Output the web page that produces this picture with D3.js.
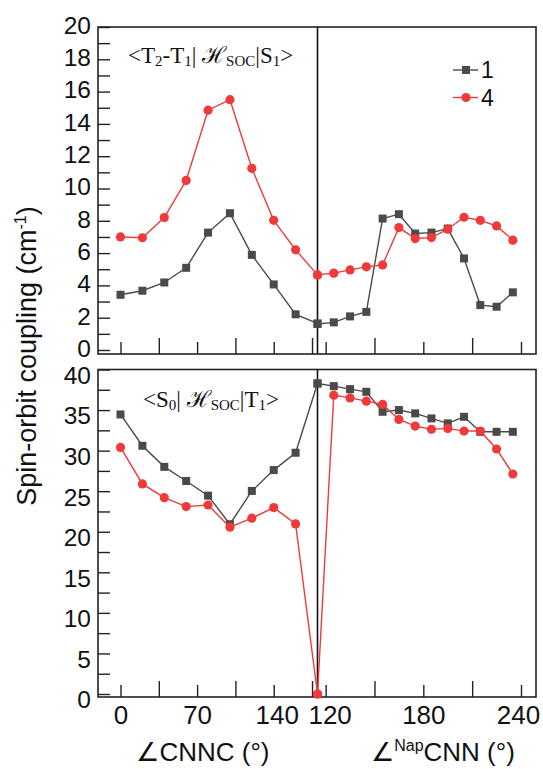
<!DOCTYPE html>
<html><head><meta charset="utf-8">
<script src="https://cdn.jsdelivr.net/npm/d3@7"></script>
<style>
html,body{margin:0;padding:0;background:#fff;}
svg{display:block;}
</style></head>
<body>
<svg id="chart" width="543" height="769"></svg>
<script>
// ---------- data ----------
const xLeft  = [0, 20, 40, 60, 80, 100, 120, 140, 160, 180];           // ∠CNNC
const xRight = [115, 125, 135, 145, 155, 165, 175, 185, 195, 205, 215, 225, 235]; // ∠NapCNN

// top panel <T2-T1|Hsoc|S1>
const top1Left  = [3.42, 3.67, 4.18, 5.09, 7.27, 8.47, 5.89, 4.06, 2.21, 1.65];
const top4Left  = [7.0, 6.95, 8.2, 10.5, 14.85, 15.5, 11.25, 8.03, 6.2, 4.65];
const top1Right = [1.61, 1.71, 2.08, 2.36, 8.14, 8.41, 7.21, 7.27, 7.52, 5.67, 2.78, 2.68, 3.57];
const top4Right = [4.65, 4.76, 4.96, 5.15, 5.27, 7.58, 6.9, 6.96, 7.48, 8.22, 8.03, 7.68, 6.8];

// bottom panel <S0|Hsoc|T1>
const bot1Left  = [34.46, 30.6, 28.0, 26.26, 24.45, 20.93, 25.03, 27.6, 29.74, 38.28];
const bot4Left  = [30.4, 25.9, 24.2, 23.1, 23.3, 20.56, 21.67, 22.98, 20.97, 0];
const bot1Right = [38.28, 37.95, 37.58, 37.25, 34.79, 35.0, 34.59, 33.97, 33.36, 34.17, 32.32, 32.32, 32.32];
const bot4Right = [0, 36.84, 36.5, 36.1, 35.7, 33.85, 33.03, 32.62, 32.74, 32.41, 32.41, 30.2, 27.12];

const seriesNames = ["1", "4"];
const leftMajorTicks = [0, 70, 140];
const leftMinorTicks = [35, 105, 175];
const rightMajorTicks = [120, 180, 240];
const rightMinorTicks = [150, 210];
const topYTicks = d3.range(0, 21, 1);
const topYLabels = [0, 2, 4, 6, 8, 10, 12, 14, 16, 18, 20];
const botYTicks = d3.range(0, 40.1, 2.5);
const botYLabels = [0, 5, 10, 15, 20, 25, 30, 35, 40];

// ---------- layout ----------
const C1 = "#4a4a4a", C4 = "#ee3a3a";
const frameL = 98, frameR = 536, divX = 317.5;
const panels = [
  {top: 27, bottom: 354, y0: 350, y1: 27, max: 20, yTicks: topYTicks, yLabels: topYLabels,
   s1L: top1Left, s4L: top4Left, s1R: top1Right, s4R: top4Right, labelDy: -2, showX: false},
  {top: 369.5, bottom: 697, y0: 694, y1: 369.5, max: 40, yTicks: botYTicks, yLabels: botYLabels,
   s1L: bot1Left, s4L: bot4Left, s1R: bot1Right, s4R: bot4Right, labelDy: 5.5, showX: true}
];

const xL = d3.scaleLinear().domain([0, 180]).range([120.5, divX]);
const xR = d3.scaleLinear().domain([115, 240]).range([divX, 521]);

const svg = d3.select("#chart");
const sansFont = "'Liberation Sans', Arial, Helvetica, sans-serif";

panels.forEach(p => {
  const y = d3.scaleLinear().domain([0, p.max]).range([p.y0, p.y1]);
  const g = svg.append("g");

  // y ticks (inward)
  const ya = g.append("g").attr("transform", `translate(${frameL},0)`)
    .call(d3.axisLeft(y).tickValues(p.yTicks).tickSize(-12).tickPadding(7)
      .tickFormat(d => p.yLabels.includes(d) ? d3.format("d")(d) : ""));
  ya.select(".domain").remove();
  ya.selectAll("line").attr("stroke", "#222").attr("stroke-width", 1.4);
  ya.selectAll("text").attr("font-family", sansFont).attr("font-size", 24.5).attr("fill", "#111")
    .attr("dy", "0.34em").attr("transform", `translate(0,${p.labelDy})`);

  // x ticks (inward)
  const xaxes = [
    [xL, leftMajorTicks, 12, true], [xL, leftMinorTicks, 16, false],
    [xR, rightMajorTicks, 12, true], [xR, rightMinorTicks, 16, false]
  ];
  xaxes.forEach(([sc, vals, len, lab]) => {
    const xa = g.append("g").attr("transform", `translate(0,${p.bottom})`)
      .call(d3.axisBottom(sc).tickValues(vals).tickSize(-len).tickPadding(9)
        .tickFormat(d => (lab && p.showX) ? d : ""));
    xa.select(".domain").remove();
    xa.selectAll("line").attr("stroke", "#222").attr("stroke-width", 1.4);
    xa.selectAll("text").attr("font-family", sansFont).attr("font-size", 26).attr("fill", "#111")
      .attr("transform", d => d === 140 ? "translate(3,0)" : (d === 120 ? "translate(4,0)" : (d === 240 ? "translate(-3,0)" : null)));
  });

  // frame
  g.append("rect").attr("x", frameL).attr("y", p.top).attr("width", frameR - frameL)
    .attr("height", p.bottom - p.top).attr("fill", "none").attr("stroke", "#222").attr("stroke-width", 1.6);
  // divider
  g.append("line").attr("x1", divX).attr("x2", divX).attr("y1", p.top).attr("y2", p.bottom)
    .attr("stroke", "#111").attr("stroke-width", 1.6);

  // series
  const drawSeries = (xs, vals, sc, color, shape) => {
    const pts = xs.map((d, i) => [sc(d), y(vals[i])]);
    g.append("path").attr("d", d3.line()(pts)).attr("fill", "none")
      .attr("stroke", color).attr("stroke-width", 1.4);
    if (shape === "square") {
      g.selectAll(null).data(pts).enter().append("rect")
        .attr("x", d => d[0] - 4).attr("y", d => d[1] - 4).attr("width", 8).attr("height", 8)
        .attr("fill", color);
    } else {
      g.selectAll(null).data(pts).enter().append("circle")
        .attr("cx", d => d[0]).attr("cy", d => d[1]).attr("r", 4.6).attr("fill", color);
    }
  };
  drawSeries(xLeft, p.s1L, xL, C1, "square");
  drawSeries(xRight, p.s1R, xR, C1, "square");
  drawSeries(xLeft, p.s4L, xL, C4, "circle");
  drawSeries(xRight, p.s4R, xR, C4, "circle");
});

// panel titles (serif)
const serif = "'Liberation Serif', 'Times New Roman', 'DejaVu Serif', serif";
function title(x, yb, parts) {
  const t = svg.append("text").attr("x", x).attr("y", yb).attr("font-family", serif)
    .attr("font-size", 23).attr("fill", "#111");
  parts.forEach(([s, sub], i) => {
    const prevSub = i > 0 && parts[i - 1][1];
    const ts = t.append("tspan").text(s)
      .attr("dy", sub && !prevSub ? 3 : (!sub && prevSub ? -3 : 0));
    if (sub) ts.attr("font-size", 15);
  });
}
title(128, 63, [["<T", false], ["2", true], ["-T", false], ["1", true], ["| ℋ", false], ["SOC", true], ["|S", false], ["1", true], [">", false]]);
title(143, 407, [["<S", false], ["0", true], ["| ℋ", false], ["SOC", true], ["|T", false], ["1", true], [">", false]]);

// legend
const legend = svg.append("g");
[["1", C1, "square", 70], ["4", C4, "circle", 97.5]].forEach(([name, color, shape, ly]) => {
  legend.append("line").attr("x1", 453).attr("x2", 478).attr("y1", ly).attr("y2", ly)
    .attr("stroke", color).attr("stroke-width", 1.4);
  if (shape === "square") legend.append("rect").attr("x", 462).attr("y", ly - 4).attr("width", 8).attr("height", 8).attr("fill", color);
  else legend.append("circle").attr("cx", 466).attr("cy", ly).attr("r", 4.6).attr("fill", color);
  legend.append("text").attr("x", 481).attr("y", ly).attr("dy", "0.36em").text(name)
    .attr("font-family", sansFont).attr("font-size", 23).attr("fill", "#111");
});

// y axis title
svg.append("text").attr("transform", "translate(36,356) rotate(-90)").attr("text-anchor", "middle")
  .attr("font-family", sansFont).attr("font-size", 27).attr("fill", "#111")
  .call(t => {
    t.append("tspan").text("Spin-orbit coupling (cm");
    t.append("tspan").text("-1").attr("font-size", 16).attr("dy", -10);
    t.append("tspan").text(")").attr("dy", 10);
  });

// x axis titles
svg.append("text").attr("x", 203).attr("y", 761).attr("text-anchor", "middle")
  .attr("font-family", sansFont).attr("font-size", 26).attr("fill", "#111").text("∠CNNC (°)");
svg.append("text").attr("x", 443).attr("y", 761).attr("text-anchor", "middle")
  .attr("font-family", sansFont).attr("font-size", 26).attr("fill", "#111")
  .call(t => {
    t.append("tspan").text("∠");
    t.append("tspan").text("Nap").attr("font-size", 16).attr("dy", -10);
    t.append("tspan").text("CNN (°)").attr("dy", 10);
  });
</script>
</body></html>
